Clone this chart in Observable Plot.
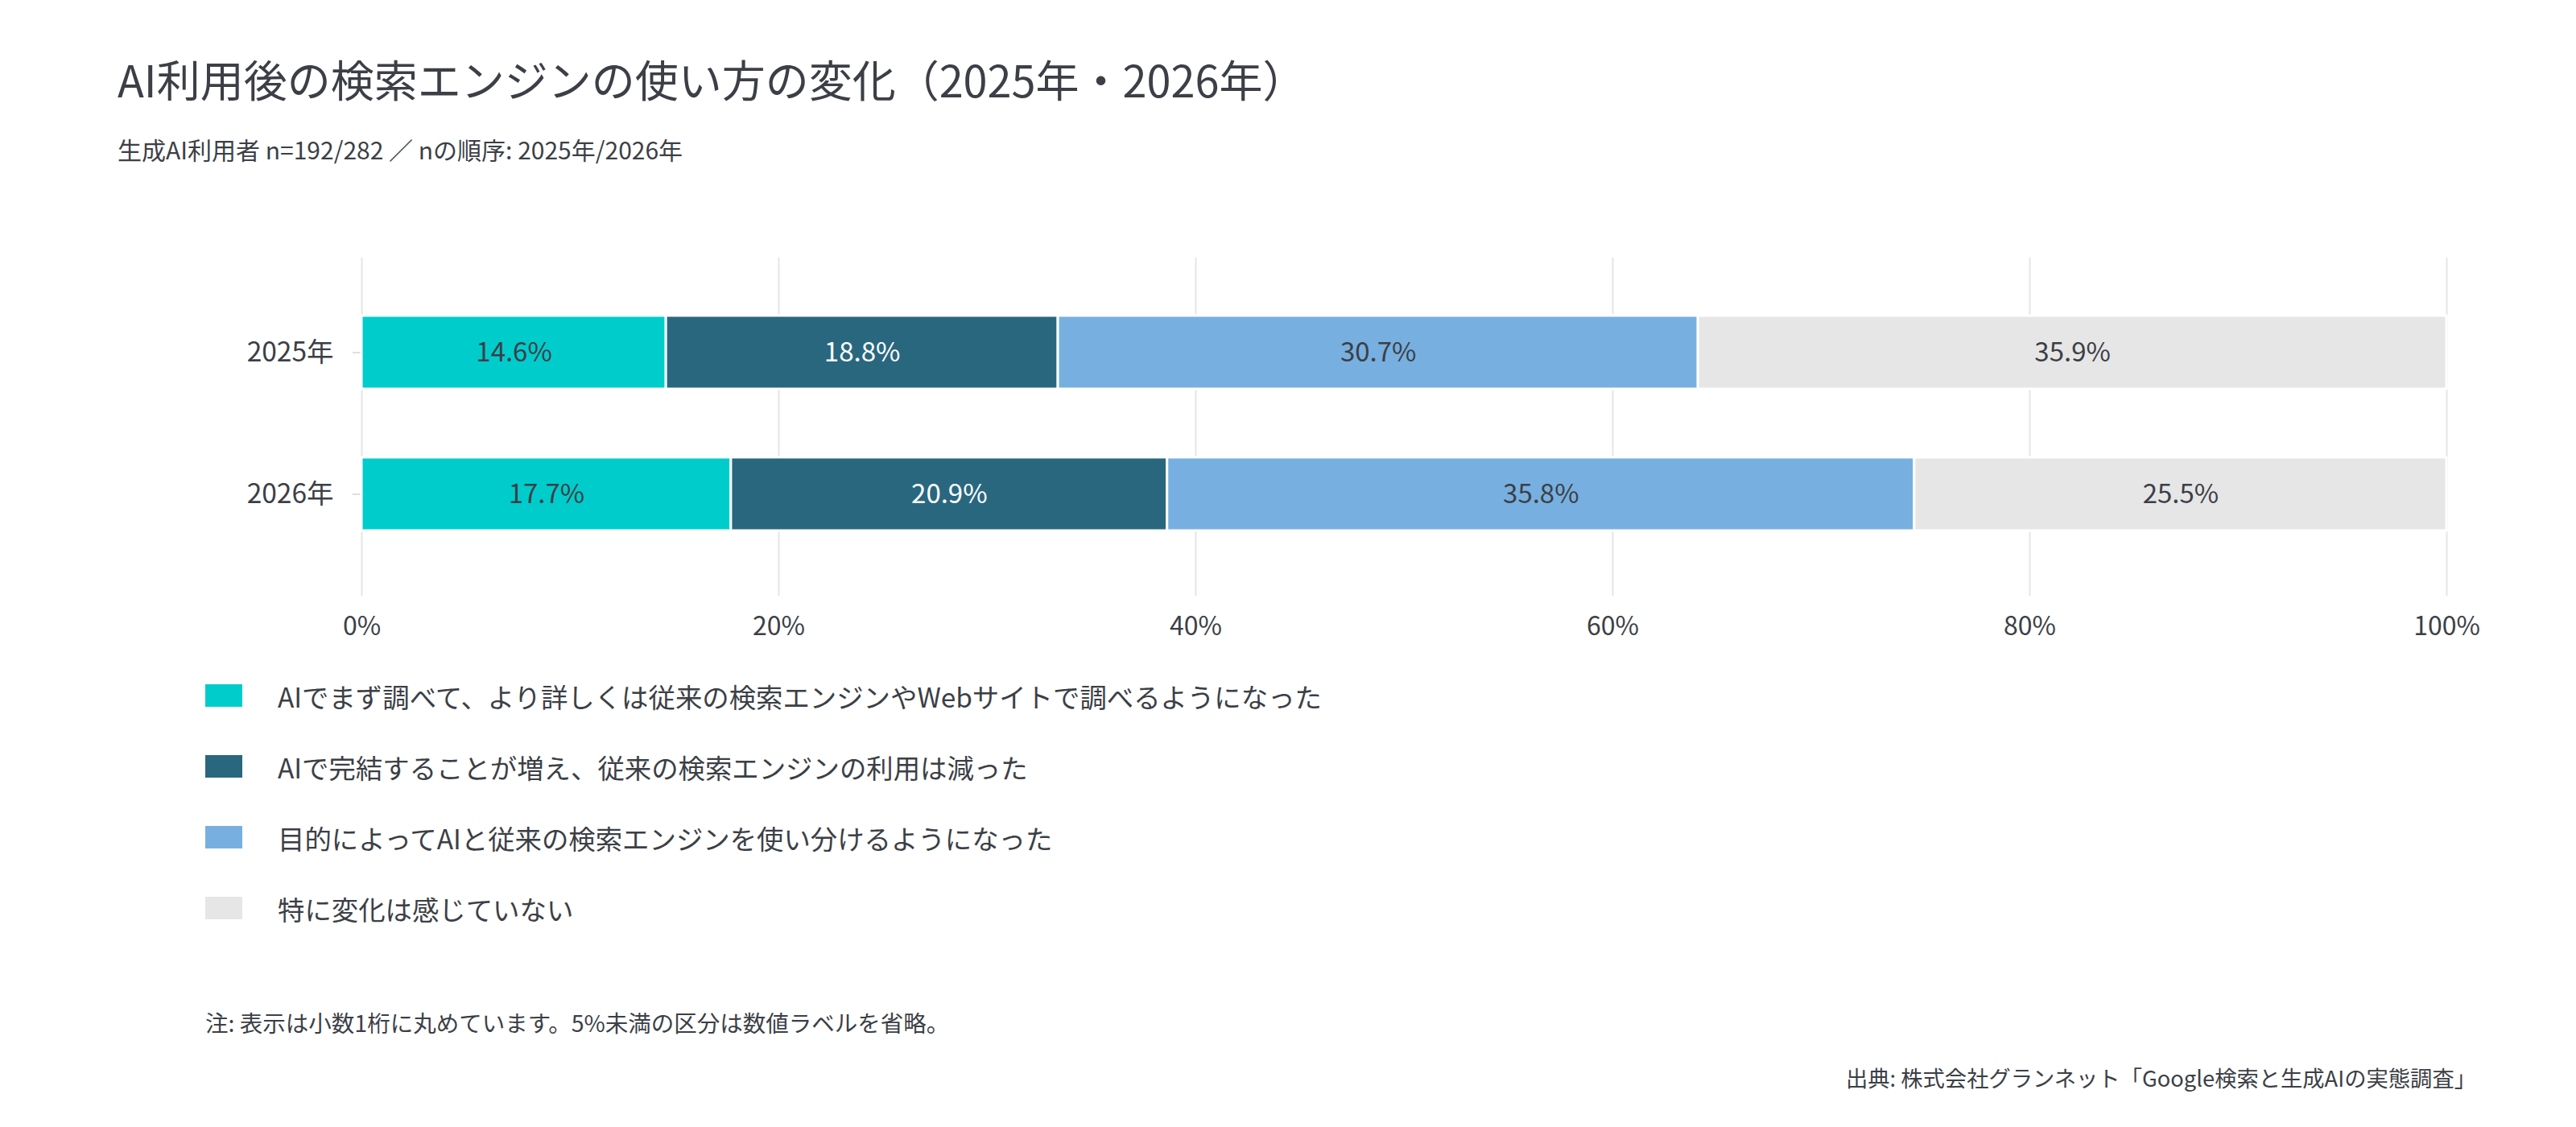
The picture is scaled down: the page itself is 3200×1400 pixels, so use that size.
<!DOCTYPE html>
<html lang="ja">
<head>
<meta charset="utf-8">
<script src="https://cdn.jsdelivr.net/npm/d3@7"></script>
<script src="https://cdn.jsdelivr.net/npm/@observablehq/plot@0.6"></script>
<style>
  html, body { margin: 0; padding: 0; background: #ffffff; }
  body { width: 3200px; height: 1400px; position: relative; overflow: hidden;
         font-family: "Noto Sans CJK JP", "Noto Sans", sans-serif; color: #3c3f46; }
  .abs { position: absolute; white-space: nowrap; line-height: 1; }
  #title { left: 146px; top: 71px; font-size: 54px; }
  #subtitle { left: 146px; top: 170px; font-size: 30px; }
  #chart { position: absolute; left: 0; top: 240px; }
  .legend-row { position: absolute; left: 255px; height: 40px; display: flex; align-items: center; font-size: 33.4px; }
  .legend-row .sw { width: 46px; height: 28px; margin-right: 44px; flex: none; }
  #note { left: 255px; top: 1256px; font-size: 28.5px; }
  #source { right: 124px; top: 1325px; font-size: 27.3px; }
</style>
</head>
<body>
<div id="title" class="abs"></div>
<div id="subtitle" class="abs"></div>
<div id="chart"></div>
<div id="legend"></div>
<div id="note" class="abs"></div>
<div id="source" class="abs"></div>
<script>
// ---- data ----
const titleText = "AI利用後の検索エンジンの使い方の変化（2025年・2026年）";
const subtitleText = "生成AI利用者 n=192/282 ／ nの順序: 2025年/2026年";
const noteText = "注: 表示は小数1桁に丸めています。5%未満の区分は数値ラベルを省略。";
const sourceText = "出典: 株式会社グランネット「Google検索と生成AIの実態調査」";

const years = ["2025年", "2026年"];
const series = [
  "AIでまず調べて、より詳しくは従来の検索エンジンやWebサイトで調べるようになった",
  "AIで完結することが増え、従来の検索エンジンの利用は減った",
  "目的によってAIと従来の検索エンジンを使い分けるようになった",
  "特に変化は感じていない"
];
const values2025 = [14.6, 18.8, 30.7, 35.9];
const values2026 = [17.7, 20.9, 35.8, 25.5];
const seriesColors = ["#00cccc", "#29677f", "#77b0e0", "#e6e6e6"];
const xTicks = [0, 0.2, 0.4, 0.6, 0.8, 1.0];
const xTickLabels = ["0%", "20%", "40%", "60%", "80%", "100%"];

// ---- build table ----
const valuesByYear = [values2025, values2026];
const table = years.flatMap((yr, i) =>
  series.map((s, j) => ({ year: yr, series: s, value: valuesByYear[i][j] }))
);

const textColor = "#3c3f46";
const labelText = d => (d.value >= 5 ? d.value.toFixed(1) + "%" : "");

document.getElementById("title").textContent = titleText;
document.getElementById("subtitle").textContent = subtitleText;
document.getElementById("note").textContent = noteText;
document.getElementById("source").textContent = sourceText;

const stackOpts = { x: "value", y: "year", z: "series", offset: "normalize" };

const chart = Plot.plot({
  width: 3200,
  height: 560,
  marginTop: 80,
  marginBottom: 70,
  marginLeft: 449,
  marginRight: 161,
  style: { fontFamily: "Noto Sans CJK JP", fontSize: "32px", color: textColor, background: "transparent" },
  x: { domain: [0, 1], label: null },
  y: { domain: years, paddingInner: 0.483, paddingOuter: 0.403, label: null },
  color: { domain: series, range: seriesColors },
  marks: [
    Plot.gridX(xTicks, { stroke: "#e5e5e5", strokeOpacity: 1, strokeWidth: 2 }),
    Plot.axisX(xTicks, {
      tickSize: 10, tickPadding: 26, stroke: "#e5e5e5", strokeWidth: 2,
      fill: textColor, fontSize: 32, label: null,
      tickFormat: d => xTickLabels[xTicks.indexOf(d)]
    }),
    Plot.axisY({ tickSize: 11, tickPadding: 24, stroke: "#dedede", strokeWidth: 2, fill: textColor, fontSize: 33.5, label: null }),
    Plot.barX(table, Plot.stackX({ ...stackOpts, fill: "series", stroke: "white", strokeWidth: 3 })),
    Plot.text(table, Plot.filter(d => d.series !== series[1],
      Plot.stackX({ ...stackOpts, text: labelText, fill: textColor, fontSize: 33 }))),
    Plot.text(table, Plot.filter(d => d.series === series[1],
      Plot.stackX({ ...stackOpts, text: labelText, fill: "white", fontSize: 33 })))
  ]
});
document.getElementById("chart").appendChild(chart);

// ---- legend (HTML, below the SVG) ----
const legend = document.getElementById("legend");
const legendCenters = [864, 952, 1040, 1128];
series.forEach((s, i) => {
  const row = document.createElement("div");
  row.className = "legend-row";
  row.style.top = (legendCenters[i] - 20) + "px";
  const sw = document.createElement("div");
  sw.className = "sw";
  sw.style.background = seriesColors[i];
  const label = document.createElement("span");
  label.textContent = s;
  row.appendChild(sw);
  row.appendChild(label);
  legend.appendChild(row);
});
</script>
</body>
</html>
